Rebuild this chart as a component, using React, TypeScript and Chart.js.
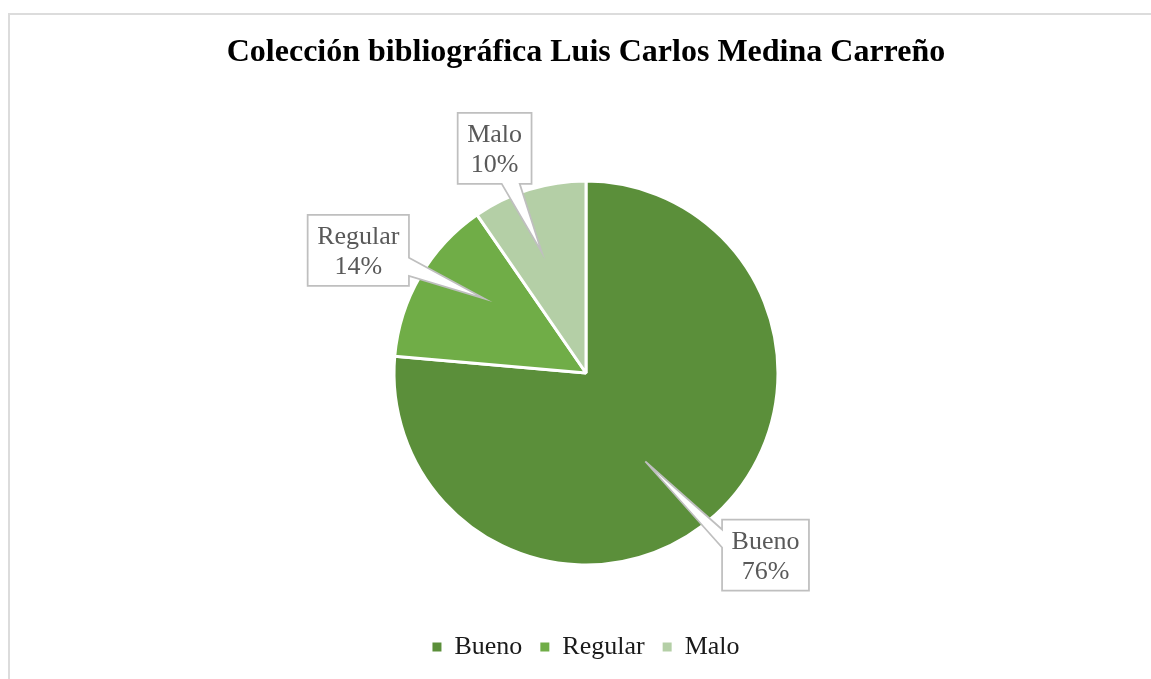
import React, { useEffect, useRef } from 'react';
import { Chart, registerables } from 'chart.js';

Chart.register(...registerables);

const TITLE = 'Colección bibliográfica Luis Carlos Medina Carreño';
const CATEGORIES = ['Bueno', 'Regular', 'Malo'];
const VALUES = [76.4, 14.0, 9.6];
const COLORS = ['#5B8F3A', '#70AD47', '#B4CFA6'];

// Callout placement, in units of the pie radius relative to the pie centre
const CALLOUT_BOX = [
  [0.935, 0.948],
  [-1.186, -0.639],
  [-0.476, -1.17],
];
const CALLOUT_TIP = [
  [0.309, 0.461],
  [-0.529, -0.387],
  [-0.23, -0.628],
];
const CALLOUT_SIDE = ['left', 'right', 'bottom'];

const SERIF = "'Liberation Serif', 'Times New Roman', serif";

const calloutPlugin = {
  id: 'callouts',
  afterDatasetsDraw(chart: any) {
    const meta = chart.getDatasetMeta(0);
    const ctx = chart.ctx as CanvasRenderingContext2D;
    const total = VALUES.reduce((a, b) => a + b, 0);
    ctx.save();
    ctx.font = `26px ${SERIF}`;
    meta.data.forEach((arc: any, i: number) => {
      const { x, y, outerRadius } = arc.getProps(['x', 'y', 'outerRadius'], true);
      const r = outerRadius;
      const line1 = CATEGORIES[i];
      const line2 = Math.round((VALUES[i] / total) * 100) + '%';
      const tw = Math.max(ctx.measureText(line1).width, ctx.measureText(line2).width);
      const w = tw + 19;
      const h = 71;
      const cx = x + CALLOUT_BOX[i][0] * r;
      const cy = y + CALLOUT_BOX[i][1] * r;
      const tx = x + CALLOUT_TIP[i][0] * r;
      const ty = y + CALLOUT_TIP[i][1] * r;
      const L = cx - w / 2, R = cx + w / 2, T = cy - h / 2, B = cy + h / 2;
      const half = 9, inset = 19;
      const clamp = (v: number, a: number, b: number) => Math.min(Math.max(v, a), b);
      const side = CALLOUT_SIDE[i];
      const pts: number[][] = [];
      if (side === 'bottom' || side === 'top') {
        const ey = side === 'bottom' ? B : T;
        const t = (ey - cy) / (ty - cy);
        const bx = clamp(cx + t * (tx - cx), L + inset, R - inset);
        if (side === 'bottom') {
          pts.push([L, T], [R, T], [R, B], [bx + half, B], [tx, ty], [bx - half, B], [L, B]);
        } else {
          pts.push([L, T], [bx - half, T], [tx, ty], [bx + half, T], [R, T], [R, B], [L, B]);
        }
      } else {
        const ex = side === 'right' ? R : L;
        const t = (ex - cx) / (tx - cx);
        const by = clamp(cy + t * (ty - cy), T + inset, B - inset);
        if (side === 'right') {
          pts.push([L, T], [R, T], [R, by - half], [tx, ty], [R, by + half], [R, B], [L, B]);
        } else {
          pts.push([L, T], [R, T], [R, B], [L, B], [L, by + half], [tx, ty], [L, by - half]);
        }
      }
      ctx.beginPath();
      pts.forEach((p, k) => (k === 0 ? ctx.moveTo(p[0], p[1]) : ctx.lineTo(p[0], p[1])));
      ctx.closePath();
      ctx.fillStyle = '#FFFFFF';
      ctx.fill();
      ctx.lineWidth = 1.75;
      ctx.strokeStyle = '#BFBFBF';
      ctx.lineJoin = 'miter';
      ctx.stroke();
      ctx.fillStyle = '#595959';
      ctx.textAlign = 'center';
      ctx.textBaseline = 'alphabetic';
      ctx.fillText(line1, cx, cy - 6);
      ctx.fillText(line2, cx, cy + 24);
    });
    ctx.restore();
  },
};

export default function App() {
  const canvasRef = useRef<HTMLCanvasElement | null>(null);

  useEffect(() => {
    if (!canvasRef.current) return;
    const baseGen = (Chart as any).overrides.pie.plugins.legend.labels.generateLabels;
    const chart = new Chart(canvasRef.current, {
      type: 'pie',
      data: {
        labels: CATEGORIES,
        datasets: [
          {
            data: VALUES,
            backgroundColor: COLORS,
            borderColor: '#FFFFFF',
            borderWidth: 3,
            radius: '79.5%',
          } as any,
        ],
      },
      options: {
        animation: false,
        responsive: true,
        maintainAspectRatio: false,
        layout: { padding: { left: 11, right: 0, top: 0, bottom: 9 } },
        plugins: {
          tooltip: { enabled: false },
          title: {
            display: true,
            text: TITLE,
            color: '#000000',
            font: { family: SERIF, size: 32, weight: 'bold', lineHeight: 1.2 },
            padding: { top: 18.8, bottom: 57.8 },
          },
          legend: {
            display: true,
            position: 'bottom',
            labels: {
              color: '#1A1A1A',
              font: { family: SERIF, size: 26 },
              boxWidth: 9,
              boxHeight: 9,
              padding: 18,
              generateLabels: (c: any) =>
                baseGen(c).map((it: any) => ({ ...it, lineWidth: 0, strokeStyle: 'rgba(0,0,0,0)' })),
            },
          },
        },
      },
      plugins: [calloutPlugin],
    });
    return () => chart.destroy();
  }, []);

  return (
    <div
      style={{
        position: 'fixed',
        left: 8,
        top: 13,
        width: 1143,
        height: 666,
        borderLeft: '2px solid #DCDCDC',
        borderTop: '2px solid #DCDCDC',
        boxSizing: 'border-box',
        background: '#FFFFFF',
      }}
    >
      <div style={{ position: 'relative', width: '100%', height: '100%' }}>
        <canvas ref={canvasRef} />
      </div>
    </div>
  );
}
